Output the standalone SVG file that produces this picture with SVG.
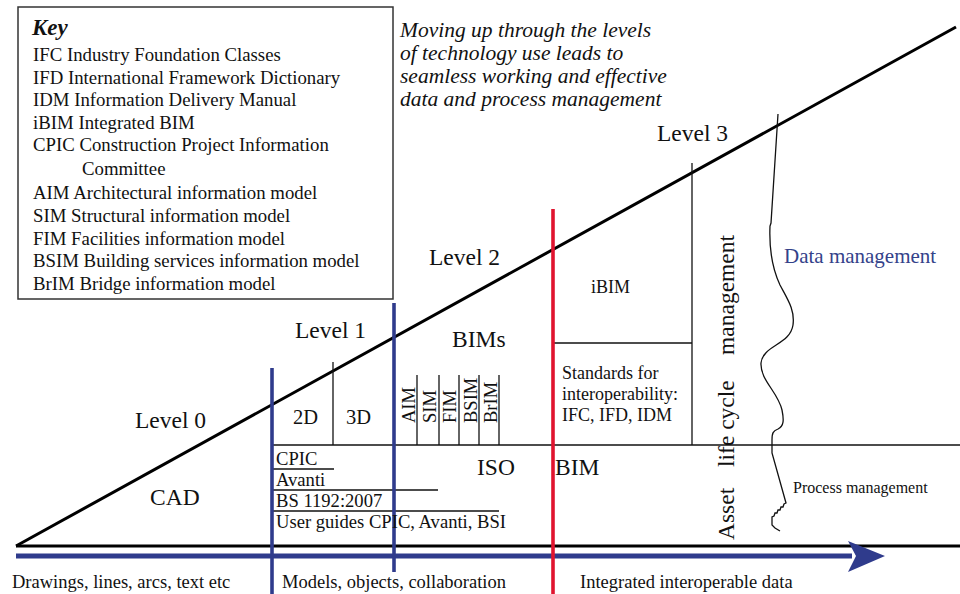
<svg xmlns="http://www.w3.org/2000/svg" width="960" height="594" viewBox="0 0 960 594">
<style>
text{font-family:"Liberation Serif","Times New Roman",serif;fill:#111}
.k{font-size:18.8px}
.it{font-size:21.5px;font-style:italic}
.lv{font-size:23.5px}
.m{font-size:18.5px}
.s{font-size:18px}
.u{font-size:18.6px}
.thin{stroke:#111;stroke-width:1.3;fill:none}
.blue{stroke:#2f3b8c;stroke-width:3.6;fill:none}
</style>
<rect width="960" height="594" fill="#fff"/>
<g id="key">
<rect x="18" y="7" width="375" height="292" fill="#fff" stroke="#333" stroke-width="1.5"/>
<text x="32" y="35" style="font-size:23px;font-weight:bold;font-style:italic">Key</text>
<text class="k" x="33" y="61">IFC Industry Foundation Classes</text>
<text class="k" x="33" y="83.5">IFD International Framework Dictionary</text>
<text class="k" x="33" y="106">IDM Information Delivery Manual</text>
<text class="k" x="33" y="128.5">iBIM Integrated BIM</text>
<text class="k" x="33" y="151">CPIC Construction Project Information</text>
<text class="k" x="82" y="175">Committee</text>
<text class="k" x="33" y="199">AIM Architectural information model</text>
<text class="k" x="33" y="222">SIM Structural information model</text>
<text class="k" x="33" y="245">FIM Facilities information model</text>
<text class="k" x="33" y="267">BSIM Building services information model</text>
<text class="k" x="33" y="290">BrIM Bridge information model</text>
</g>
<g id="note">
<text class="it" x="400" y="37">Moving up through the levels</text>
<text class="it" x="400" y="60">of technology use leads to</text>
<text class="it" x="400" y="83">seamless working and effective</text>
<text class="it" x="400" y="106">data and process management</text>
</g>
<g id="connectors">
<line x1="16" y1="546" x2="956" y2="27" stroke="#000" stroke-width="3"/>
<line x1="16" y1="546" x2="960" y2="546" stroke="#000" stroke-width="3"/>
<line x1="272" y1="445" x2="960" y2="445" class="thin" stroke-width="1.5"/>
<line x1="333" y1="362" x2="333" y2="445" class="thin"/>
<line x1="417" y1="375" x2="417" y2="445" class="thin"/>
<line x1="439" y1="375" x2="439" y2="445" class="thin"/>
<line x1="459" y1="375" x2="459" y2="445" class="thin"/>
<line x1="479" y1="375" x2="479" y2="445" class="thin"/>
<line x1="499" y1="375" x2="499" y2="445" class="thin"/>
<line x1="692" y1="163" x2="692" y2="445" class="thin"/>
<line x1="553" y1="343" x2="692" y2="343" class="thin"/>
<line x1="272" y1="469" x2="334" y2="469" class="thin"/>
<line x1="272" y1="490" x2="438" y2="490" class="thin"/>
<line x1="272" y1="511" x2="499" y2="511" class="thin"/>
<path class="thin" d="M778,114 L771,223 L770,226 C769,250 772,268 780,285 C788,300 795,310 793,325 C790,345 763,345 761,363 C760,380 778,392 782,410 C784,420 784,426 778,429 C773,431 772,433 772,440 L772,453 L786,503 L784,504 L783,507 L781,507 L780,510 L778,510 L777,513 L775,513 L774,516 L772,517 L772,525 L775,528 L780,531"/>
<line x1="16" y1="556" x2="852" y2="556" stroke="#2f3b8c" stroke-width="5"/>
<path d="M848,541 L885,556 L848,572 L856,556 Z" fill="#2f3b8c"/>
<line x1="272" y1="368" x2="272" y2="594" class="blue"/>
<line x1="394" y1="303" x2="394" y2="572" class="blue"/>
<line x1="553" y1="209" x2="553" y2="594" stroke="#e0142f" stroke-width="3.6"/>
</g>
<g id="level0">
<text class="lv" x="135" y="428">Level 0</text>
<text class="lv" x="150" y="505">CAD</text>
</g>
<g id="level1">
<text class="lv" x="295" y="338">Level 1</text>
<text x="293" y="424" style="font-size:20.5px">2D</text>
<text x="346" y="424" style="font-size:20.5px">3D</text>
</g>
<g id="standards">
<text class="u" x="276" y="465">CPIC</text>
<text class="u" x="276" y="486">Avanti</text>
<text class="u" x="276" y="507">BS 1192:2007</text>
<text class="u" x="276" y="528">User guides CPIC, Avanti, BSI</text>
</g>
<g id="level2">
<text class="lv" x="429" y="265">Level 2</text>
<text class="lv" x="452" y="347">BIMs</text>
<text class="m" transform="translate(415,423) rotate(-90)">AIM</text>
<text class="m" transform="translate(436,423) rotate(-90)">SIM</text>
<text class="m" transform="translate(456,423) rotate(-90)">FIM</text>
<text class="m" transform="translate(477,423) rotate(-90)">BSIM</text>
<text class="m" transform="translate(497,423) rotate(-90)">BrIM</text>
<text class="lv" x="477" y="475">ISO <tspan x="555">BIM</tspan></text>
</g>
<g id="level3">
<text class="lv" x="657" y="141">Level 3</text>
<text class="s" x="591" y="293">iBIM</text>
<text class="s" x="562" y="379">Standards for</text>
<text class="s" x="562" y="400">interoperability:</text>
<text class="s" x="562" y="421">IFC, IFD, IDM</text>
<text class="lv" transform="translate(734,540) rotate(-90)">Asset <tspan x="73">life cycle</tspan> <tspan x="185">management</tspan></text>
<text x="784" y="263" style="font-size:21px;fill:#34428a">Data management</text>
<text x="793" y="493" style="font-size:16px">Process management</text>
</g>
<g id="axis-labels">
<text class="m" x="12" y="588">Drawings, lines, arcs, text etc</text>
<text class="m" x="282" y="588">Models, objects, collaboration</text>
<text class="m" x="580" y="588">Integrated interoperable data</text>
</g>
</svg>
